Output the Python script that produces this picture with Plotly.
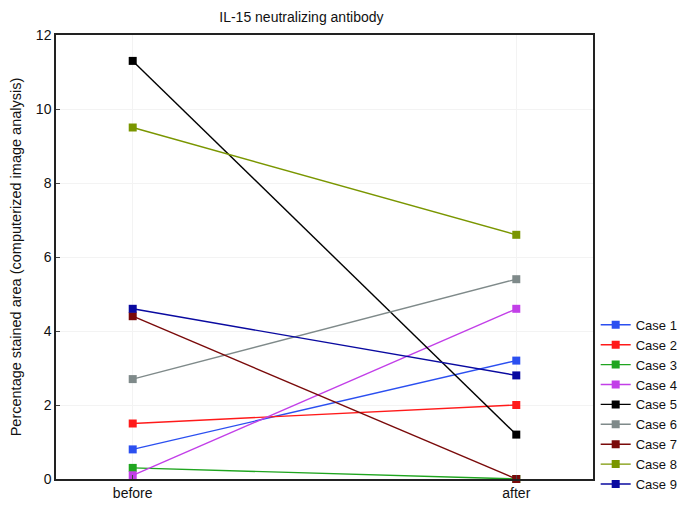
import plotly.graph_objects as go

# data
stages = ["before", "after"]
cases = ["Case 1", "Case 2", "Case 3", "Case 4", "Case 5",
         "Case 6", "Case 7", "Case 8", "Case 9"]
before = [0.8, 1.5, 0.3, 0.1, 11.3, 2.7, 4.4, 9.5, 4.6]
after = [3.2, 2.0, 0.0, 4.6, 1.2, 5.4, 0.0, 6.6, 2.8]
colors = ["#2b4ff0", "#ff1a1a", "#1fa51f", "#c23fe8", "#000000",
          "#7f8a8a", "#7a0a0a", "#7a9600", "#0a0aa0"]

fig = go.Figure()
for name, b, a, c in zip(cases, before, after, colors):
    fig.add_trace(go.Scatter(
        x=stages, y=[b, a], name=name, mode="lines+markers",
        line=dict(color=c, width=1.4),
        marker=dict(symbol="square", size=8, color=c),
        cliponaxis=False,
    ))

axis_common = dict(showline=True, linecolor="#222", linewidth=1.5, mirror=True,
                   showgrid=True, gridcolor="#f3f3f3", zeroline=False,
                   automargin=False)

fig.update_layout(
    width=685, height=512,
    margin=dict(l=56, r=92, t=35, b=33, autoexpand=False),
    paper_bgcolor="white", plot_bgcolor="white",
    font=dict(family="Liberation Sans, Arial, sans-serif", color="#111"),
    title=dict(text="IL-15 neutralizing antibody", x=0.44, xanchor="center",
               y=0.966, yanchor="middle", font=dict(size=14)),
    xaxis=dict(range=[-0.2, 1.2], type="category", ticks="inside", ticklen=4,
               tickfont=dict(size=14), **axis_common),
    yaxis=dict(range=[0, 12], dtick=2, ticks="inside", ticklen=4,
               tickfont=dict(size=14),
               title=dict(text="Percentage stained area (computerized image analysis)",
                          font=dict(size=14.5), standoff=11),
               **axis_common),
    legend=dict(x=1.005, xanchor="left", y=0.167, yanchor="middle",
                font=dict(size=13), tracegroupgap=0, itemwidth=30,
                bgcolor="rgba(0,0,0,0)"),
)

# the page body has a default 8px margin; drop it so the figure sits at 0,0
fig.write_html("out.html", config={"displayModeBar": False},
               post_script="document.body.style.margin='0';")
